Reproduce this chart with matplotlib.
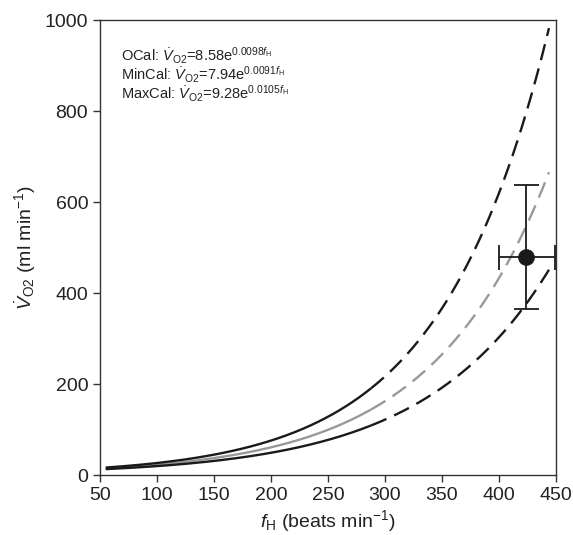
import numpy as np
import matplotlib
matplotlib.use("Agg")
import matplotlib.pyplot as plt

plt.rcParams['font.family'] = ['Liberation Sans', 'DejaVu Sans']
plt.rcParams['mathtext.fontset'] = 'custom'
plt.rcParams['mathtext.rm'] = 'Liberation Sans'
plt.rcParams['mathtext.it'] = 'Liberation Sans:italic'
plt.rcParams['mathtext.bf'] = 'Liberation Sans:bold'

# Calibration equations: VO2 = a * exp(b * fH)
cal_names = ["OCal", "MinCal", "MaxCal"]
cal_a = [8.58, 7.94, 9.28]
cal_b = [0.0098, 0.0091, 0.0105]
cal_colors = ["#999999", "#1a1a1a", "#1a1a1a"]

# Heart-rate range: measured (solid) and extrapolated (dashed)
fh_measured = [55, 288]
fh_extrap = [288, 444]

# Field estimate with error bars
pt_fh = [424]
pt_vo2 = [480]
pt_fh_err = [24, 25]
pt_vo2_err = [115, 158]

fig = plt.figure(figsize=(5.73, 5.35), dpi=100)
ax = fig.add_axes([0.1745, 0.112, 0.7955, 0.8505])

for a, b, c in zip(cal_a, cal_b, cal_colors):
    f1 = np.linspace(fh_measured[0], fh_measured[1], 300)
    ax.plot(f1, a * np.exp(b * f1), color=c, lw=1.7, solid_capstyle='butt', zorder=2)
    f2 = np.linspace(fh_extrap[0], fh_extrap[1], 300)
    ax.plot(f2, a * np.exp(b * f2), color=c, lw=1.7, dashes=(7, 3.6), zorder=2)

ax.errorbar(pt_fh, pt_vo2,
            xerr=[[pt_fh_err[0]], [pt_fh_err[1]]],
            yerr=[[pt_vo2_err[0]], [pt_vo2_err[1]]],
            fmt='o', color='#1a1a1a', ms=11, elinewidth=1.3, capsize=9,
            capthick=1.3, zorder=4, clip_on=False)

ax.set_xlim(50, 450)
ax.set_ylim(0, 1000)
ax.set_xticks(np.arange(50, 451, 50))
ax.set_yticks(np.arange(0, 1001, 200))
ax.tick_params(direction='out', length=5, width=1, labelsize=14,
               color='#333333', labelcolor='#222222')
for s in ax.spines.values():
    s.set_linewidth(1.0)
    s.set_color('#333333')

ax.set_xlabel(r'$\mathit{f}_{\mathrm{H}}$ (beats min$^{-1}$)', fontsize=14,
              labelpad=3, color='#222222')
ax.set_ylabel(r'$\dot{\mathit{V}}_{\mathrm{O2}}$ (ml min$^{-1}$)', fontsize=14,
              labelpad=5, color='#222222')

eq_lines = []
for n, a, b in zip(cal_names, cal_a, cal_b):
    eq_lines.append(n + r': $\dot{\mathit{V}}_{\mathrm{O2}}$=' + f'{a:.2f}'
                    + r'e$^{' + f'{b:.4f}' + r'\mathit{f}_{\mathrm{H}}}$')
for i, t in enumerate(eq_lines):
    ax.text(0.047, 0.922 - i * 0.042, t, transform=ax.transAxes,
            fontsize=10.5, va='center', ha='left', color='#222222')

fig.savefig("out.png", dpi=100)
